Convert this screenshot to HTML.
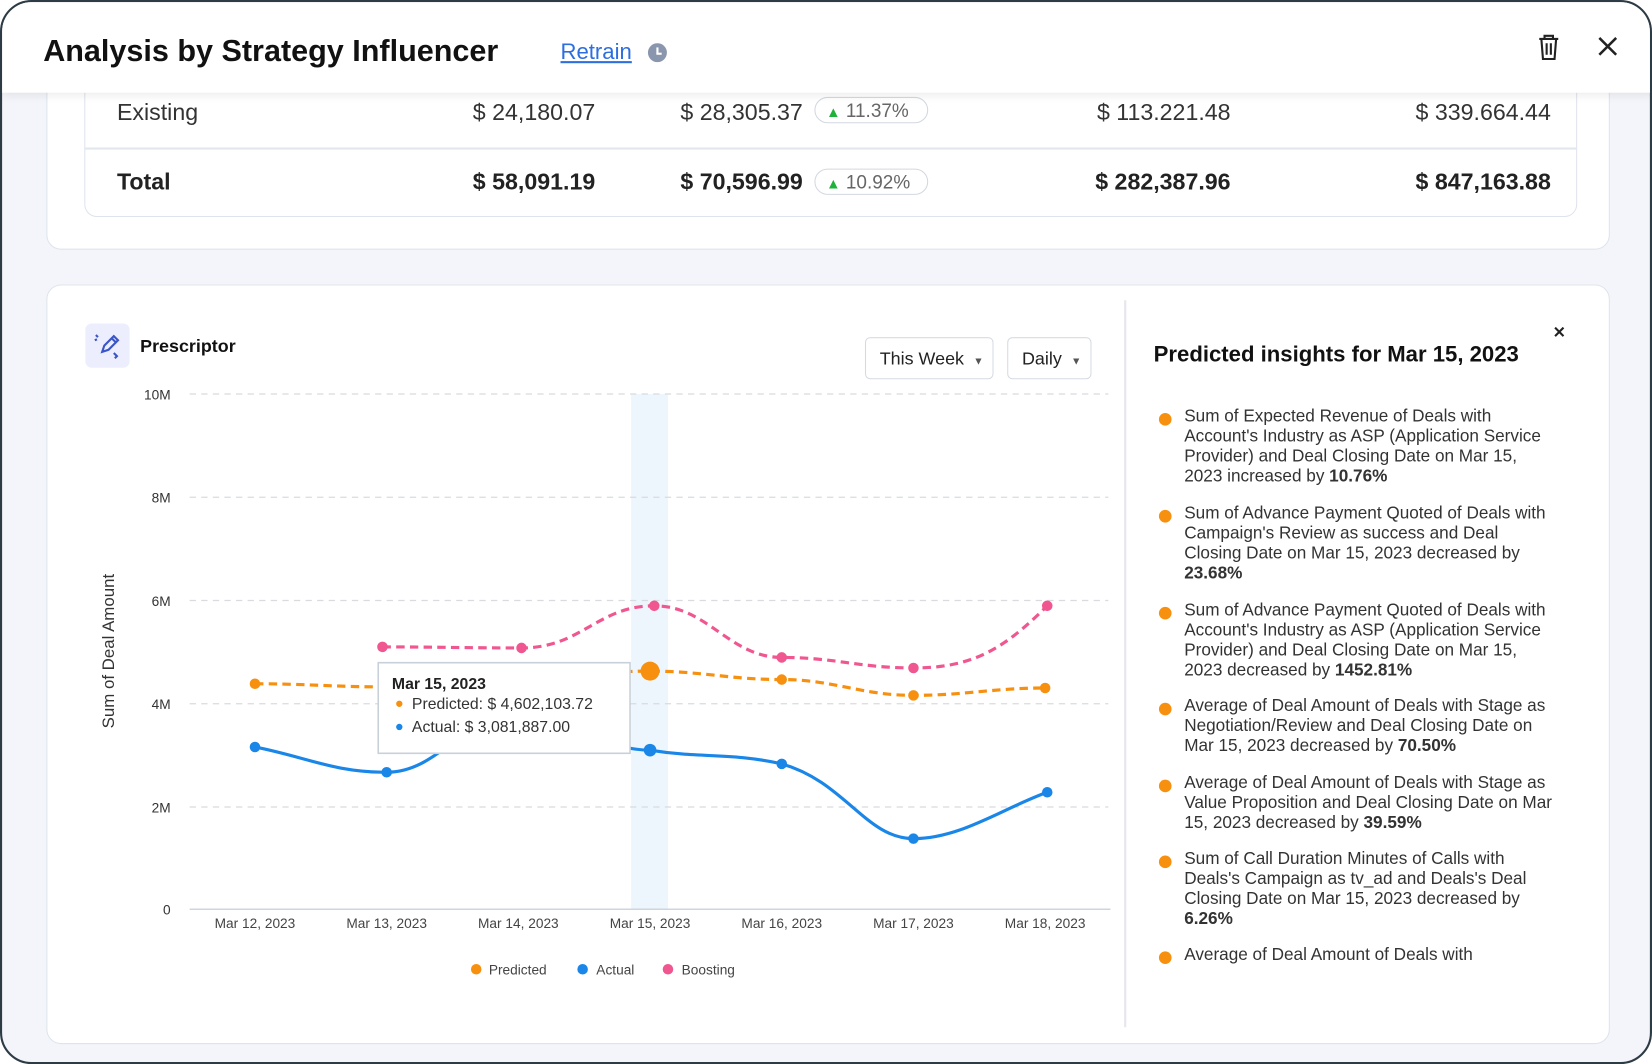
<!DOCTYPE html>
<html><head><meta charset="utf-8"><style>
*{box-sizing:border-box;margin:0;padding:0}
html,body{width:1652px;height:1064px;overflow:hidden;background:#fff;font-family:"Liberation Sans",sans-serif}
#s{position:absolute;left:0;top:0;width:1568px;height:1010px;transform:scale(1.05357);transform-origin:0 0}
.frame{position:absolute;left:0;top:0;width:1568px;height:1010px;border:2px solid #2d3b45;border-radius:30px;background:#f3f5fa;overflow:hidden}
.hdr{position:absolute;left:0;top:0;width:1568px;height:86px;background:#fff;box-shadow:0 3px 8px rgba(0,0,0,.08);z-index:3}
.a{position:absolute;white-space:nowrap}
.card{position:absolute;background:#fff;border:1.5px solid #dfe4ec;border-radius:14px}
.r{text-align:right}
.badge{position:absolute;height:25px;border:1.5px solid #d3d8e0;border-radius:13px;font-size:18px;color:#666;padding:2px 0 0 10px;width:108px}
.badge b{color:#1fb23a;font-size:14px;font-weight:normal}
.ins{position:absolute;left:1122px;font-size:16.3px;line-height:19px;color:#333;white-space:nowrap}
.dot{position:absolute;left:1098px;width:12px;height:12px;border-radius:6px;background:#f7900f}
.dd{position:absolute;height:40px;border:1.5px solid #d6dbe3;border-radius:5px;font-size:17px;color:#222;padding:10px 0 0 13px;background:#fff}
</style></head><body><div id="s"><div class="frame">
<div class="hdr">
<div class="a" style="left:39px;top:31px;font-size:29px;font-weight:bold;color:#111">Analysis by Strategy Influencer</div>
<div class="a" style="left:530px;top:36px;font-size:21px;color:#2d6ee0;text-decoration:underline">Retrain</div>
<div class="a" style="left:613px;top:39px;width:18px;height:18px;border-radius:9px;background:#8a96ad"><div style="position:absolute;left:8px;top:4px;width:2px;height:6px;background:#fff"></div><div style="position:absolute;left:8px;top:9px;width:5px;height:2px;background:#fff"></div></div>
<svg class="a" style="left:1456px;top:30px" width="24" height="26" viewBox="0 0 24 26"><path d="M3 5h18M8 5V2h8v3M5 5l1.5 19h11L19 5M10 9v11M14 9v11" stroke="#222" stroke-width="2" fill="none"/></svg>
<svg class="a" style="left:1513px;top:31px" width="22" height="22"><path d="M3 3L19 19M19 3L3 19" stroke="#222" stroke-width="2.4"/></svg>
</div>
<div class="card" style="left:42px;top:40px;width:1484px;height:195px"></div>
<div class="card" style="left:78px;top:40px;width:1417px;height:164px;border-radius:12px"></div>
<div class="a" style="left:79px;top:138px;width:1415px;height:1.5px;background:#e2e6ed"></div>
<div class="a" style="left:109px;top:92px;font-size:22px;color:#333">Existing</div>
<div class="a r" style="left:363px;width:200px;top:92px;font-size:22px;color:#333">$ 24,180.07</div>
<div class="a r" style="left:560px;width:200px;top:92px;font-size:22px;color:#333">$ 28,305.37</div>
<div class="badge" style="left:771px;top:90px"><b>▲</b> 11.37%</div>
<div class="a r" style="left:966px;width:200px;top:92px;font-size:22px;color:#333">$ 113.221.48</div>
<div class="a r" style="left:1270px;width:200px;top:92px;font-size:22px;color:#333">$ 339.664.44</div>
<div class="a" style="left:109px;top:158px;font-size:22px;font-weight:bold;color:#222">Total</div>
<div class="a r" style="left:363px;width:200px;top:158px;font-size:22px;font-weight:bold;color:#222">$ 58,091.19</div>
<div class="a r" style="left:560px;width:200px;top:158px;font-size:22px;font-weight:bold;color:#222">$ 70,596.99</div>
<div class="badge" style="left:771px;top:158px"><b>▲</b> 10.92%</div>
<div class="a r" style="left:966px;width:200px;top:158px;font-size:22px;font-weight:bold;color:#222">$ 282,387.96</div>
<div class="a r" style="left:1270px;width:200px;top:158px;font-size:22px;font-weight:bold;color:#222">$ 847,163.88</div>

<div class="card" style="left:42px;top:268px;width:1484px;height:721px"></div>
<div class="a" style="left:1065px;top:283px;width:1.5px;height:690px;background:#e3e7ee"></div>
<div class="a" style="left:79px;top:305px;width:42px;height:42px;border-radius:6px;background:#eceefd"></div>
<svg class="a" style="left:86px;top:312px" width="28" height="28"><path d="M9 20l2-6 9-9 4 4-9 9zM18 7l4 4M3 4l2 2M2 9l2-1M20 21l3 3-2 2" stroke="#3a55c8" stroke-width="2" fill="none"/></svg>
<div class="a" style="left:131px;top:317px;font-size:17px;font-weight:bold;color:#111">Prescriptor</div>
<div class="dd" style="left:819px;top:318px;width:122px">This Week <span style="font-size:10px;color:#555;margin-left:4px">▼</span></div>
<div class="dd" style="left:954px;top:318px;width:80px">Daily <span style="font-size:10px;color:#555;margin-left:4px">▼</span></div>

<svg class="a" style="left:0;top:0" width="1568" height="1010">
<rect x="597" y="372" width="35" height="489" fill="#eef6fd"/>
<g stroke="#d8dbe0" stroke-width="1.2" stroke-dasharray="6 5">
<line x1="178" y1="372" x2="1050" y2="372"/><line x1="178" y1="470" x2="1050" y2="470"/><line x1="178" y1="568" x2="1050" y2="568"/><line x1="178" y1="666" x2="1050" y2="666"/><line x1="178" y1="764" x2="1050" y2="764"/></g>
<line x1="178" y1="861" x2="1052" y2="861" stroke="#cfd5dd" stroke-width="1.5"/>
<g font-size="13" fill="#333" text-anchor="end" font-family="Liberation Sans">
<text x="160" y="377">10M</text><text x="160" y="475">8M</text><text x="160" y="573">6M</text><text x="160" y="671">4M</text><text x="160" y="769">2M</text><text x="160" y="866">0</text></g>
<g font-size="13" fill="#444" text-anchor="middle" font-family="Liberation Sans">
<text x="240" y="879">Mar 12, 2023</text><text x="365" y="879">Mar 13, 2023</text><text x="490" y="879">Mar 14, 2023</text><text x="615" y="879">Mar 15, 2023</text><text x="740" y="879">Mar 16, 2023</text><text x="865" y="879">Mar 17, 2023</text><text x="990" y="879">Mar 18, 2023</text></g>
<text x="106" y="616" transform="rotate(-90 106 616)" font-size="16" fill="#333" text-anchor="middle" font-family="Liberation Sans">Sum of Deal Amount</text>
<path d="M240,647 C290,647 315,650 365,650 C415,650 440,642 490,642 C540,642 565,635 615,635 C665,635 690,643 740,643 C790,643 815,658 865,658 C915,658 940,651 990,651" fill="none" stroke="#f7900f" stroke-width="3" stroke-dasharray="8 5"/>
<path d="M361,612 C410,612 440,613 493,613 C550,613 565,573 619,573 C670,573 690,622 740,622 C790,622 815,632 865,632 C920,632 950,615 992,573" fill="none" stroke="#f0568f" stroke-width="3" stroke-dasharray="8 5"/>
<path d="M240,707 C290,717 315,731 365,731 C415,731 440,675 490,675 C545,675 565,710 615,710 C665,718 690,712 740,723 C800,740 820,794 865,794 C910,794 950,765 992,750" fill="none" stroke="#1a86e8" stroke-width="3"/>
<g fill="#f7900f"><circle cx="240" cy="647" r="5"/><circle cx="740" cy="643" r="5"/><circle cx="865" cy="658" r="5"/><circle cx="990" cy="651" r="5"/><circle cx="615" cy="635" r="9"/></g>
<g fill="#f0568f"><circle cx="361" cy="612" r="5"/><circle cx="493" cy="613" r="5"/><circle cx="619" cy="573" r="5"/><circle cx="740" cy="622" r="5"/><circle cx="865" cy="632" r="5"/><circle cx="992" cy="573" r="5"/></g>
<g fill="#1a86e8"><circle cx="240" cy="707" r="5"/><circle cx="365" cy="731" r="5"/><circle cx="615" cy="710" r="6"/><circle cx="740" cy="723" r="5"/><circle cx="865" cy="794" r="5"/><circle cx="992" cy="750" r="5"/></g>
<rect x="357" y="627" width="239" height="86" fill="#fff" stroke="#c8d0da" stroke-width="1.5"/>
<text x="370" y="652" font-size="15" font-weight="bold" fill="#222" font-family="Liberation Sans">Mar 15, 2023</text>
<circle cx="377" cy="666" r="3" fill="#f7900f"/><text x="389" y="671" font-size="15" fill="#333" font-family="Liberation Sans">Predicted:  $ 4,602,103.72</text>
<circle cx="377" cy="688" r="3" fill="#1a86e8"/><text x="389" y="693" font-size="15" fill="#333" font-family="Liberation Sans">Actual:  $ 3,081,887.00</text>
<g font-size="13" fill="#444" font-family="Liberation Sans">
<circle cx="450" cy="918" r="5" fill="#f7900f"/><text x="462" y="923">Predicted</text>
<circle cx="551" cy="918" r="5" fill="#1a86e8"/><text x="564" y="923">Actual</text>
<circle cx="632" cy="918" r="5" fill="#f0568f"/><text x="645" y="923">Boosting</text></g>
<path d="M1474 309l8 8M1482 309l-8 8" stroke="#222" stroke-width="2"/>
</svg>
<div class="a" style="left:1093px;top:323px;font-size:21px;font-weight:bold;color:#111">Predicted insights for Mar 15, 2023</div>
<div class="dot" style="top:390px"></div><div class="ins" style="top:384px">Sum of Expected Revenue of Deals with<br>Account's Industry as ASP (Application Service<br>Provider) and Deal Closing Date on Mar 15,<br>2023 increased by <b>10.76%</b></div>
<div class="dot" style="top:482px"></div><div class="ins" style="top:476px">Sum of Advance Payment Quoted of Deals with<br>Campaign's Review as success and Deal<br>Closing Date on Mar 15, 2023 decreased by<br><b>23.68%</b></div>
<div class="dot" style="top:574px"></div><div class="ins" style="top:568px">Sum of Advance Payment Quoted of Deals with<br>Account's Industry as ASP (Application Service<br>Provider) and Deal Closing Date on Mar 15,<br>2023 decreased by <b>1452.81%</b></div>
<div class="dot" style="top:665px"></div><div class="ins" style="top:659px">Average of Deal Amount of Deals with Stage as<br>Negotiation/Review and Deal Closing Date on<br>Mar 15, 2023 decreased by <b>70.50%</b></div>
<div class="dot" style="top:738px"></div><div class="ins" style="top:732px">Average of Deal Amount of Deals with Stage as<br>Value Proposition and Deal Closing Date on Mar<br>15, 2023 decreased by <b>39.59%</b></div>
<div class="dot" style="top:810px"></div><div class="ins" style="top:804px">Sum of Call Duration Minutes of Calls with<br>Deals's Campaign as tv_ad and Deals's Deal<br>Closing Date on Mar 15, 2023 decreased by<br><b>6.26%</b></div>
<div class="dot" style="top:901px"></div><div class="ins" style="top:895px">Average of Deal Amount of Deals with</div>
</div></div></body></html>
